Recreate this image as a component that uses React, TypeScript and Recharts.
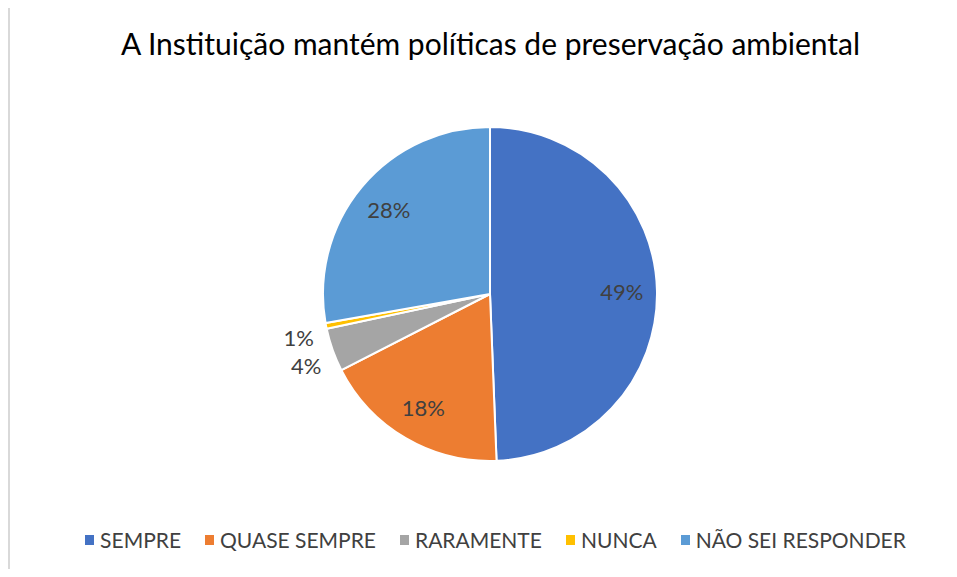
import { Cell, Legend, Pie, PieChart } from "recharts";

const categories = ["SEMPRE", "QUASE SEMPRE", "RARAMENTE", "NUNCA", "NÃO SEI RESPONDER"];
const shares = [49.4, 18.1, 4.2, 0.55, 27.8];
const colors = ["#4472C4", "#ED7D31", "#A5A5A5", "#FFC000", "#5B9BD5"];

const FONT = "Lato, 'Open Sans', sans-serif";
const TEXT = "#404040";
const RADIAN = Math.PI / 180;

const rows = categories.map((name, i) => ({ name, value: shares[i] }));

function SliceLabel(props: any) {
  const { cx, cy, midAngle, outerRadius, percent } = props;
  const small = percent < 0.05;
  // tiny slices get their label just outside the rim, like the spreadsheet did
  const r = small ? outerRadius + 28 : outerRadius * 0.79;
  const x = cx + r * Math.cos(-midAngle * RADIAN);
  const y = cy + r * Math.sin(-midAngle * RADIAN) + (small ? 6 : 0);
  return (
    <text
      x={x}
      y={y}
      fill={TEXT}
      fontSize={22}
      fontFamily={FONT}
      textAnchor="middle"
      dominantBaseline="central"
    >
      {`${Math.round(percent * 100)}%`}
    </text>
  );
}

function LegendRow() {
  return (
    <div
      style={{
        display: "flex",
        justifyContent: "center",
        gap: 24,
        fontFamily: FONT,
        fontSize: 21,
        color: TEXT,
      }}
    >
      {categories.map((c, i) => (
        <div key={c} style={{ display: "flex", alignItems: "center", gap: 6 }}>
          <span style={{ width: 9, height: 10, background: colors[i], display: "inline-block" }} />
          <span>{c}</span>
        </div>
      ))}
    </div>
  );
}

export default function App() {
  return (
    <div style={{ position: "relative", width: 957, height: 577, margin: -8, background: "#fff", overflow: "hidden" }}>
      <div style={{ position: "absolute", left: 8, top: 4, right: 0, height: 2, background: "#d9d9d9" }} />
      <div style={{ position: "absolute", left: 8, top: 4, bottom: 0, width: 2, background: "#d9d9d9" }} />
      <div
        style={{
          position: "absolute",
          top: 25,
          left: 0,
          width: 981,
          textAlign: "center",
          fontFamily: FONT,
          fontSize: 30,
          color: "#000",
        }}
      >
        A Instituição mantém políticas de preservação ambiental
      </div>
      <PieChart
        width={957}
        height={577}
        margin={{ top: 0, right: 0, bottom: 0, left: 0 }}
        style={{ position: "absolute", left: 0, top: 0 }}
      >
        <Pie
          data={rows}
          dataKey="value"
          nameKey="name"
          cx={490}
          cy={294}
          outerRadius={167}
          startAngle={90}
          endAngle={-270}
          stroke="#fff"
          strokeWidth={2}
          label={SliceLabel}
          labelLine={false}
          isAnimationActive={false}
        >
          {rows.map((r, i) => (
            <Cell key={r.name} fill={colors[i]} />
          ))}
        </Pie>
        <Legend content={LegendRow} wrapperStyle={{ top: 527, left: 17, width: 957 }} />
      </PieChart>
    </div>
  );
}
